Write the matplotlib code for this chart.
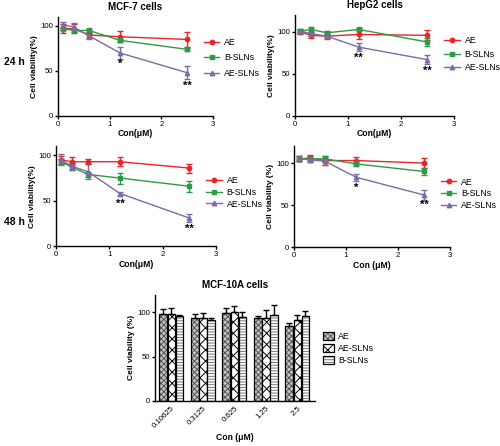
import numpy as np
import matplotlib.pyplot as plt
from matplotlib.lines import Line2D
from matplotlib.patches import Patch
from matplotlib.legend_handler import HandlerTuple

plt.rcParams['font.family'] = ['Liberation Sans', 'DejaVu Sans']
plt.rcParams['hatch.linewidth'] = 0.7

conc = [0.1, 0.3, 0.6, 1.2, 2.5]
series = ["AE", "B-SLNs", "AE-SLNs"]
colors = {"AE": "#e8262a", "B-SLNs": "#2e9a47", "AE-SLNs": "#7d6aa6"}
markers = {"AE": "o", "B-SLNs": "s", "AE-SLNs": "^"}

# MCF-7 24 h
mcf_24 = {"AE": [97, 97, 90, 88, 85], "B-SLNs": [97, 95, 95, 84, 74], "AE-SLNs": [101, 99, 89, 70, 48]}
mcf_24_err = {"AE": [5, 5, 3, 6, 8], "B-SLNs": [2, 2, 2, 2, 2], "AE-SLNs": [3, 4, 3, 7, 7]}
mcf_24_stars = [(1.2, 58, "*"), (2.5, 34, "**")]
# HepG2 24 h
hep_24 = {"AE": [100, 96, 95, 97, 96], "B-SLNs": [101, 103, 99, 103, 88], "AE-SLNs": [101, 98, 95, 82, 67]}
hep_24_err = {"AE": [2, 3, 3, 5, 6], "B-SLNs": [2, 3, 2, 2, 5], "AE-SLNs": [2, 3, 2, 5, 5]}
hep_24_stars = [(1.2, 69, "**"), (2.5, 54, "**")]
# MCF-7 48 h
mcf_48 = {"AE": [95, 93, 93, 93, 86], "B-SLNs": [93, 87, 79, 75, 66], "AE-SLNs": [95, 88, 82, 58, 31]}
mcf_48_err = {"AE": [4, 5, 3, 5, 5], "B-SLNs": [3, 3, 3, 6, 6], "AE-SLNs": [6, 4, 8, 2, 4]}
mcf_48_stars = [(1.2, 47, "**"), (2.5, 19, "**")]
# HepG2 48 h
hep_48 = {"AE": [105, 106, 103, 103, 100], "B-SLNs": [105, 105, 105, 99, 90], "AE-SLNs": [105, 104, 102, 83, 62]}
hep_48_err = {"AE": [3, 4, 5, 4, 6], "B-SLNs": [3, 3, 4, 2, 4], "AE-SLNs": [3, 3, 4, 4, 6]}
hep_48_stars = [(1.2, 71, "*"), (2.5, 50, "**")]

# MCF-10A bars
bar_labels = ["0.10625", "0.3125", "0.625", "1.25", "2.5"]
bar_series = ["AE", "AE-SLNs", "B-SLNs"]
bar_vals = {"AE": [98, 94, 99, 94, 85], "AE-SLNs": [98, 94, 100, 94, 92], "B-SLNs": [96, 92, 95, 97, 96]}
bar_err = {"AE": [6, 4, 6, 2, 3], "AE-SLNs": [7, 5, 7, 9, 5], "B-SLNs": [1, 2, 6, 11, 6]}
bar_face = {"AE": "#c4c4c4", "AE-SLNs": "white", "B-SLNs": "white"}
bar_hatch = {"AE": "xxxxxx", "AE-SLNs": "XXX", "B-SLNs": "------"}
bar_hatch_col = {"AE": "#555555", "AE-SLNs": "black", "B-SLNs": "#777777"}

fig = plt.figure(figsize=(5, 4.46), dpi=100)


def style(ax, ylim):
    for s in ["top", "right"]:
        ax.spines[s].set_visible(False)
    for s in ["left", "bottom"]:
        ax.spines[s].set_linewidth(1.0)
    ax.tick_params(labelsize=5.6, width=1.0, length=2.5, pad=1.2)
    ax.set_ylim(0, ylim)
    ax.set_yticks([0, 50, 100])


def line_panel(rect, data, err, stars, ylim, title, ylabel, xlabel, leg_y, leg_gap):
    ax = fig.add_axes(rect)
    handles = []
    for name in series:
        ax.errorbar(conc, data[name], yerr=err[name], color=colors[name], marker=markers[name],
                    markersize=3.2, linewidth=1.0, capsize=2.2, elinewidth=1.0, capthick=1.0)
        handles.append(Line2D([], [], color=colors[name], marker=markers[name],
                              markersize=3.2, linewidth=1.0, label=name))
    for x, y, s in stars:
        ax.text(x, y, s, ha="center", va="center", fontsize=8, fontweight="bold")
    style(ax, ylim)
    ax.set_xlim(0, 3)
    ax.set_xticks([0, 1, 2, 3])
    if title:
        ax.set_title(title, fontsize=7, fontweight="bold", pad=5)
    ax.set_ylabel(ylabel, fontsize=6, fontweight="bold", labelpad=1.5)
    ax.set_xlabel(xlabel, fontsize=6.2, fontweight="bold", labelpad=1)
    ax.legend(handles=handles, loc="upper left", bbox_to_anchor=(0.94, leg_y), frameon=False,
              fontsize=6.3, handlelength=1.8, handletextpad=0.5, labelspacing=leg_gap,
              borderaxespad=0.0, borderpad=0.0)
    return ax


line_panel([0.116, 0.740, 0.310, 0.222], mcf_24, mcf_24_err, mcf_24_stars, 110,
           "MCF-7 cells", "Cell viability(%)", "Con(\u03bcM)", 0.79, 0.75)
line_panel([0.590, 0.740, 0.318, 0.226], hep_24, hep_24_err, hep_24_stars, 120,
           "HepG2 cells", "Cell viability(%)", "Con(\u03bcM)", 0.79, 0.5)
line_panel([0.112, 0.448, 0.320, 0.224], mcf_48, mcf_48_err, mcf_48_stars, 110,
           None, "Cell viability(%)", "Con(\u03bcM)", 0.70, 0.3)
line_panel([0.588, 0.446, 0.312, 0.226], hep_48, hep_48_err, hep_48_stars, 120,
           None, "Cell viability (%)", "Con (\u03bcM)", 0.69, 0.3)

fig.text(0.008, 1 - 62 / 446, "24 h", fontsize=7.5, fontweight="bold", va="center")
fig.text(0.008, 1 - 222 / 446, "48 h", fontsize=7.5, fontweight="bold", va="center")

ax = fig.add_axes([0.310, 0.101, 0.320, 0.238])
x = np.arange(len(bar_labels))
w = 0.245
handles = []
for i, name in enumerate(bar_series):
    vals = bar_vals[name]
    pos = x + (i - 1) * (w + 0.01)
    ax.bar(pos, vals, width=w, color=bar_face[name], edgecolor=bar_hatch_col[name],
           hatch=bar_hatch[name], linewidth=0)
    ax.bar(pos, vals, width=w, fill=False, edgecolor="black", linewidth=0.9,
           yerr=[np.zeros(len(vals)), bar_err[name]],
           error_kw=dict(capsize=2.2, elinewidth=1.0, capthick=1.0, ecolor="black"))
    handles.append((Patch(facecolor=bar_face[name], edgecolor=bar_hatch_col[name],
                          hatch=bar_hatch[name], linewidth=0),
                    Patch(fill=False, edgecolor="black", linewidth=0.9)))
style(ax, 120)
ax.set_xlim(-0.52, 4.56)
ax.set_xticks(x)
ax.set_xticklabels(bar_labels, rotation=45, ha="right", rotation_mode="anchor")
ax.tick_params(axis="x", length=0, pad=3)
ax.set_title("MCF-10A cells", fontsize=7, fontweight="bold", pad=5)
ax.set_ylabel("Cell viability (%)", fontsize=6, fontweight="bold", labelpad=1.5)
ax.set_xlabel("Con (\u03bcM)", fontsize=6.2, fontweight="bold", labelpad=2)
ax.legend(handles=handles, labels=bar_series, handler_map={tuple: HandlerTuple(ndivide=1, pad=0)},
          loc="upper left", bbox_to_anchor=(1.05, 0.65), frameon=False, fontsize=6.3,
          handlelength=1.3, handleheight=0.9, handletextpad=0.4, labelspacing=0.35,
          borderpad=0.0, borderaxespad=0.0)

fig.savefig("out.png", dpi=100)
